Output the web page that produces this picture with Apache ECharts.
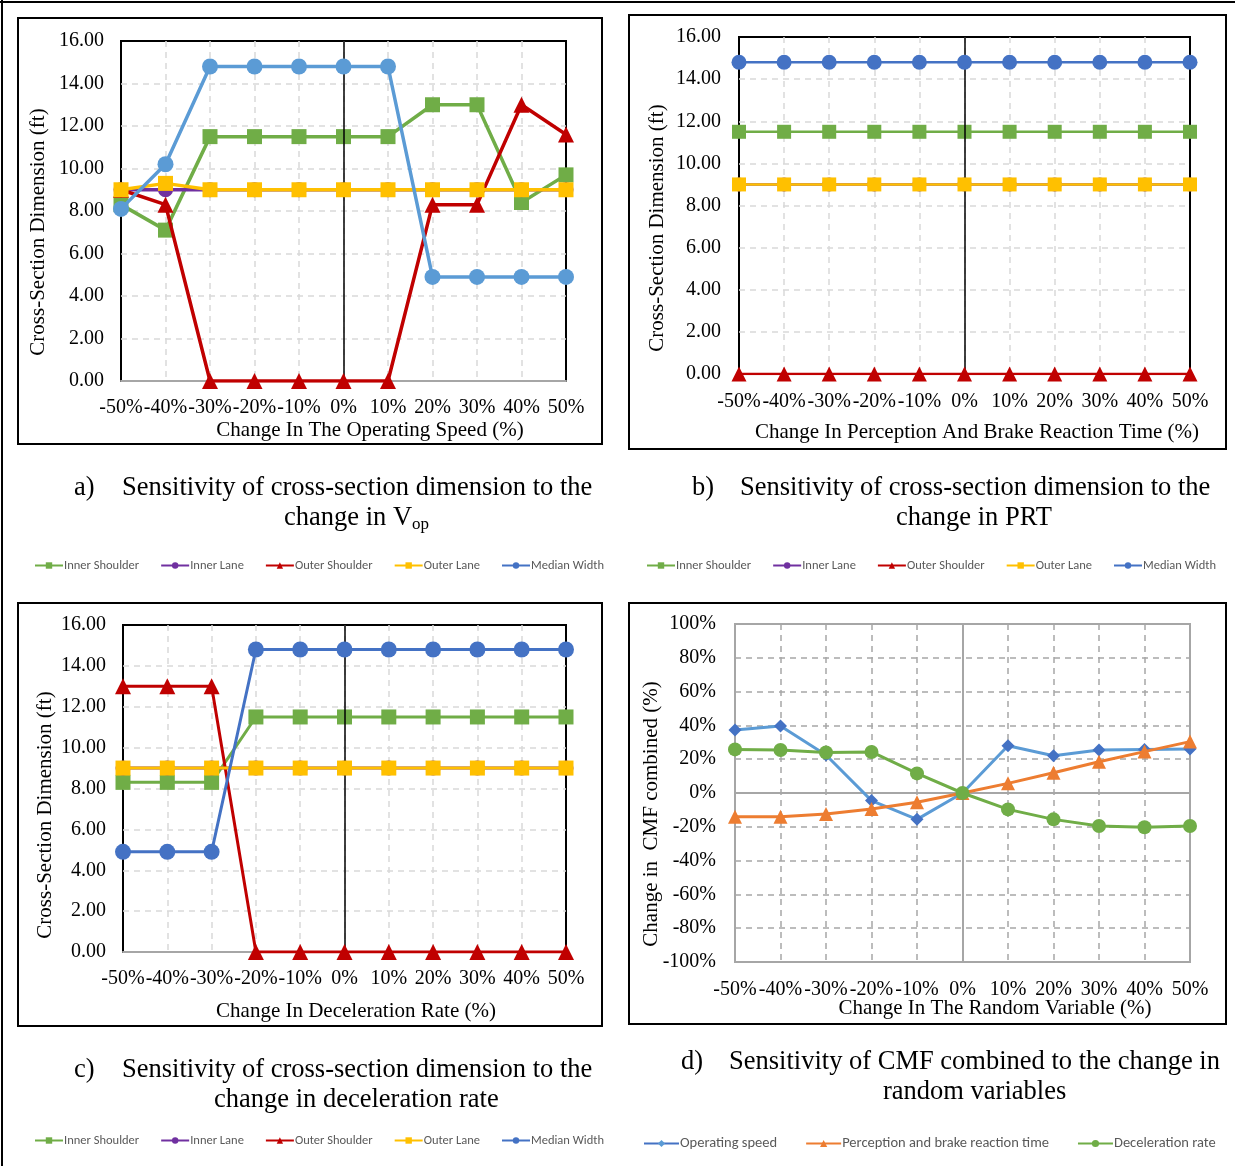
<!DOCTYPE html>
<html>
<head>
<meta charset="utf-8">
<script src="https://cdn.jsdelivr.net/npm/echarts@6/dist/echarts.min.js"></script>
<style>
html,body{margin:0;padding:0;background:#fff;}
#chart{width:1235px;height:1166px;}
</style>
</head>
<body>
<div id="chart"></div>
<script>
// ---------- DATA ----------
const categories = ['-50%','-40%','-30%','-20%','-10%','0%','10%','20%','30%','40%','50%'];
const dimTicks = [0, 2, 4, 6, 8, 10, 12, 14, 16];
const cmfTicks = [-100, -80, -60, -40, -20, 0, 20, 40, 60, 80, 100];

// a) Operating speed
const aInnerShoulder = [8.3, 7.1, 11.5, 11.5, 11.5, 11.5, 11.5, 13.0, 13.0, 8.4, 9.7];
const aInnerLane     = [9.0, 9.0, 9.0, 9.0, 9.0, 9.0, 9.0, 9.0, 9.0, 9.0, 9.0];
const aOuterShoulder = [9.0, 8.3, 0, 0, 0, 0, 0, 8.3, 8.3, 13.0, 11.6];
const aOuterLane     = [9.0, 9.3, 9.0, 9.0, 9.0, 9.0, 9.0, 9.0, 9.0, 9.0, 9.0];
const aMedianWidth   = [8.1, 10.2, 14.8, 14.8, 14.8, 14.8, 14.8, 4.9, 4.9, 4.9, 4.9];

// b) PRT
const bInnerShoulder = [11.5, 11.5, 11.5, 11.5, 11.5, 11.5, 11.5, 11.5, 11.5, 11.5, 11.5];
const bInnerLane     = [9.0, 9.0, 9.0, 9.0, 9.0, 9.0, 9.0, 9.0, 9.0, 9.0, 9.0];
const bOuterShoulder = [0, 0, 0, 0, 0, 0, 0, 0, 0, 0, 0];
const bOuterLane     = [9.0, 9.0, 9.0, 9.0, 9.0, 9.0, 9.0, 9.0, 9.0, 9.0, 9.0];
const bMedianWidth   = [14.8, 14.8, 14.8, 14.8, 14.8, 14.8, 14.8, 14.8, 14.8, 14.8, 14.8];

// c) Deceleration rate
const cInnerShoulder = [8.3, 8.3, 8.3, 11.5, 11.5, 11.5, 11.5, 11.5, 11.5, 11.5, 11.5];
const cInnerLane     = [9.0, 9.0, 9.0, 9.0, 9.0, 9.0, 9.0, 9.0, 9.0, 9.0, 9.0];
const cOuterShoulder = [13.0, 13.0, 13.0, 0, 0, 0, 0, 0, 0, 0, 0];
const cOuterLane     = [9.0, 9.0, 9.0, 9.0, 9.0, 9.0, 9.0, 9.0, 9.0, 9.0, 9.0];
const cMedianWidth   = [4.9, 4.9, 4.9, 14.8, 14.8, 14.8, 14.8, 14.8, 14.8, 14.8, 14.8];

// d) CMF combined (%)
const dOperatingSpeed = [37.3, 39.6, 22.5, -4.5, -15.6, 0, 28.0, 22.0, 25.4, 25.8, 26.0];
const dPRT            = [-14.0, -14.0, -12.4, -9.5, -5.5, 0, 5.7, 12.0, 18.5, 24.5, 30.4];
const dDecel          = [25.8, 25.4, 24.0, 24.3, 11.6, 0, -9.7, -15.6, -19.5, -20.3, -19.5];

const dimNames = ['Inner Shoulder', 'Inner Lane', 'Outer Shoulder', 'Outer Lane', 'Median Width'];
const cmfNames = ['Operating speed', 'Perception and brake reaction time', 'Deceleration rate'];

const xTitles = ['Change In The Operating Speed (%)', 'Change In Perception And Brake Reaction Time (%)',
                 'Change In Deceleration Rate (%)', 'Change In The Random Variable (%)'];
const yTitles = ['Cross-Section Dimension (ft)', 'Cross-Section Dimension (ft)',
                 'Cross-Section Dimension (ft)', 'Change in  CMF combined (%)'];

// ---------- STYLES ----------
const SERIF = '"Liberation Serif", "Times New Roman", serif';
const SANS = 'Carlito, "Liberation Sans", "Noto Sans", sans-serif';
const C = {green:'#70AD47', purple:'#7030A0', red:'#C00000', yellow:'#FFC000', lblue:'#5B9BD5', blue:'#4472C4', orange:'#ED7D31'};

const grids = [
  {left:121, top:41, width:445, height:340},
  {left:739, top:37, width:451, height:337},
  {left:123, top:625, width:443, height:327},
  {left:735, top:624, width:455, height:338}
];

function xAxisFor(i, margin, gridColor, lineColor){
  return {
    type:'category', gridIndex:i, data:categories, boundaryGap:false,
    axisTick:{show:false},
    axisLine:{show:true, lineStyle:{color:lineColor, width:2}},
    axisLabel:{interval:0, margin:margin, color:'#000', fontFamily:SERIF, fontSize:20},
    splitLine:{show:true, showMinLine:false, showMaxLine:false, lineStyle:{color:gridColor, type:[6,5], width:1.5}}
  };
}
function yAxisFor(i, margin, gridColor, isPct){
  return {
    type:'value', gridIndex:i,
    min: isPct ? cmfTicks[0] : dimTicks[0],
    max: isPct ? cmfTicks[cmfTicks.length-1] : dimTicks[dimTicks.length-1],
    interval: isPct ? 20 : 2,
    axisTick:{show:false}, axisLine:{show:false},
    axisLabel:{margin:margin, color:'#000', fontFamily:SERIF, fontSize:20,
      formatter: isPct ? (v => v + '%') : (v => v.toFixed(2))},
    splitLine:{show:true, showMinLine:false, showMaxLine:false, lineStyle:{color:gridColor, type:[6,5], width:1.5}}
  };
}

function dimSeries(i, arrs, colors, sizes, lw){
  const symbols = ['rect','circle','triangle','rect','circle'];
  return dimNames.map((n, k) => ({
    type:'line', name:n, xAxisIndex:i, yAxisIndex:i, data:arrs[k],
    symbol:symbols[k], symbolSize:sizes[k], showSymbol:true,
    lineStyle:{color:colors[k], width:lw}, itemStyle:{color:colors[k]},
    animation:false, z:3+k
  }));
}
function zeroLine(i, color, withH){
  const data = [{xAxis:'0%'}];
  if (withH) data.push({yAxis:0});
  return {
    type:'line', xAxisIndex:i, yAxisIndex:i, data:[], silent:true, animation:false, z:2,
    markLine:{silent:true, symbol:['none','none'], label:{show:false}, animation:false,
      lineStyle:{color:color, type:'solid', width:color === '#000' ? 1.5 : 2}, data:data}
  };
}

const series = [
  zeroLine(0, '#000'), zeroLine(1, '#000'), zeroLine(2, '#000'), zeroLine(3, '#A6A6A6', true),
  ...dimSeries(0, [aInnerShoulder, aInnerLane, aOuterShoulder, aOuterLane, aMedianWidth],
    [C.green, C.purple, C.red, C.yellow, C.lblue], [15, 15, 16, 15, 16], 3.5),
  ...dimSeries(1, [bInnerShoulder, bInnerLane, bOuterShoulder, bOuterLane, bMedianWidth],
    [C.green, C.purple, C.red, C.yellow, C.blue], [14, 14, 15, 14, 15], 2.5),
  ...dimSeries(2, [cInnerShoulder, cInnerLane, cOuterShoulder, cOuterLane, cMedianWidth],
    [C.green, C.purple, C.red, C.yellow, C.blue], [15, 15, 16, 15, 16], 3),
  {type:'line', name:cmfNames[0], xAxisIndex:3, yAxisIndex:3, data:dOperatingSpeed,
    symbol:'diamond', symbolSize:13, lineStyle:{color:C.lblue, width:3}, itemStyle:{color:C.blue}, animation:false, z:5},
  {type:'line', name:cmfNames[1], xAxisIndex:3, yAxisIndex:3, data:dPRT,
    symbol:'triangle', symbolSize:14, lineStyle:{color:C.orange, width:3}, itemStyle:{color:C.orange}, animation:false, z:6},
  {type:'line', name:cmfNames[2], xAxisIndex:3, yAxisIndex:3, data:dDecel,
    symbol:'circle', symbolSize:14, lineStyle:{color:C.green, width:3}, itemStyle:{color:C.green}, animation:false, z:7}
];

const legendDimColors = [C.green, C.purple, C.red, C.yellow, C.blue];
function dimLegend(left, top){
  return {
    left:left, top:top, itemWidth:28, itemHeight:8, itemGap:21,
    textStyle:{color:'#595959', fontFamily:SANS, fontSize:12.5, padding:[0,0,0,-4]},
    selectedMode:false,
    data: dimNames.map((n, k) => ({name:n,
      itemStyle:{color:legendDimColors[k]}, lineStyle:{color:legendDimColors[k], width:2}}))
  };
}

function txt(left, top, s){
  return {type:'text', left:left, top:top, silent:true, style:{text:s, font:'26.5px ' + SERIF, fill:'#000'}};
}
function axisTitle(cx, cy, s, rotate){
  return {type:'text', x:cx, y:cy, rotation: rotate ? Math.PI/2 : 0, silent:true,
    style:{text:s, font:'21px ' + SERIF, fill:'#000', align:'center', verticalAlign:'middle'}};
}

const option = {
  backgroundColor:'#fff',
  animation:false,
  grid: grids.map((g, i) => Object.assign({show:true, borderColor: i === 3 ? '#A6A6A6' : '#000', borderWidth: 2, containLabel:false}, g)),
  xAxis:[
    xAxisFor(0, 17, '#D9D9D9', '#A6A6A6'),
    xAxisFor(1, 18, '#D9D9D9', '#000'),
    xAxisFor(2, 17, '#D9D9D9', '#A6A6A6'),
    xAxisFor(3, 18, '#A6A6A6', '#A6A6A6')
  ],
  yAxis:[
    yAxisFor(0, 17, '#D9D9D9', false),
    yAxisFor(1, 18, '#D9D9D9', false),
    yAxisFor(2, 17, '#D9D9D9', false),
    yAxisFor(3, 19, '#A6A6A6', true)
  ],
  legend:[
    dimLegend(29, 554),
    dimLegend(641, 554),
    dimLegend(29, 1129),
    {
      left:638, top:1131, itemWidth:35, itemHeight:9, itemGap:28,
      textStyle:{color:'#595959', fontFamily:SANS, fontSize:14.5, padding:[0,0,0,-4]},
      selectedMode:false,
      data:[
        {name:cmfNames[0], itemStyle:{color:C.lblue}, lineStyle:{color:C.blue, width:2}},
        {name:cmfNames[1], itemStyle:{color:C.orange}, lineStyle:{color:C.orange, width:2}},
        {name:cmfNames[2], itemStyle:{color:C.green}, lineStyle:{color:C.green, width:2}}
      ]
    }
  ],
  series: series,
  graphic:[
    {type:'line', shape:{x1:2, y1:0, x2:2, y2:1166}, style:{stroke:'#000', lineWidth:2}, silent:true},
    {type:'line', shape:{x1:0, y1:2, x2:1235, y2:2}, style:{stroke:'#000', lineWidth:2}, silent:true},
    {type:'rect', shape:{x:18, y:18, width:584, height:426}, style:{fill:'none', stroke:'#000', lineWidth:2}, silent:true, z:-1},
    {type:'rect', shape:{x:629, y:15, width:597, height:434}, style:{fill:'none', stroke:'#000', lineWidth:2}, silent:true, z:-1},
    {type:'rect', shape:{x:18, y:603, width:584, height:423}, style:{fill:'none', stroke:'#000', lineWidth:2}, silent:true, z:-1},
    {type:'rect', shape:{x:629, y:603, width:597, height:421}, style:{fill:'none', stroke:'#000', lineWidth:2}, silent:true, z:-1},
    // axis titles
    axisTitle(370, 430, xTitles[0], false),
    axisTitle(977, 432, xTitles[1], false),
    axisTitle(356, 1011, xTitles[2], false),
    axisTitle(995, 1008, xTitles[3], false),
    axisTitle(38, 232, yTitles[0], true),
    axisTitle(657, 228, yTitles[1], true),
    axisTitle(45, 815, yTitles[2], true),
    axisTitle(651, 814, yTitles[3], true),
    // captions
    txt(74, 475, 'a)'),
    txt(122, 475, 'Sensitivity of cross-section dimension to the'),
    {type:'text', left:284, top:505, silent:true, style:{text:'{n|change in V}{s|op}', fill:'#000',
      rich:{n:{fontFamily:SERIF, fontSize:26.5, fill:'#000'}, s:{fontFamily:SERIF, fontSize:17, padding:[13,0,0,0], fill:'#000'}}}},
    txt(692, 475, 'b)'),
    txt(740, 475, 'Sensitivity of cross-section dimension to the'),
    txt(896, 505, 'change in PRT'),
    txt(74, 1057, 'c)'),
    txt(122, 1057, 'Sensitivity of cross-section dimension to the'),
    txt(214, 1087, 'change in deceleration rate'),
    txt(681, 1049, 'd)'),
    txt(729, 1049, 'Sensitivity of CMF combined to the change in'),
    txt(883, 1079, 'random variables')
  ]
};

const chart = echarts.init(document.getElementById('chart'), null, {renderer:'canvas'});
chart.setOption(option);
</script>
</body>
</html>
